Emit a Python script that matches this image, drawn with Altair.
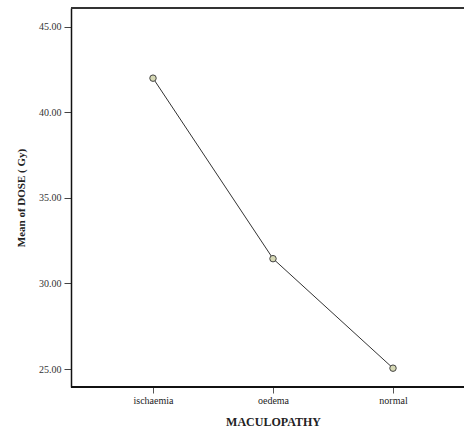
import altair as alt
import pandas as pd

categories = ["ischaemia", "oedema", "normal"]
mean_dose = [42.0, 31.45, 25.05]
y_ticks = [25, 30, 35, 40, 45]

df = pd.DataFrame({"MACULOPATHY": categories, "dose": mean_dose})

W, H = 393, 379

x_enc = alt.X(
    "MACULOPATHY:N",
    sort=categories,
    scale=alt.Scale(type="point", padding=0, range=[82, 322]),
    axis=alt.Axis(
        title="MACULOPATHY",
        titleFont="Liberation Serif",
        titleFontSize=12,
        titleFontWeight="bold",
        titleColor="#222222",
        titlePadding=11,
        labelFont="Liberation Serif",
        labelFontSize=10,
        labelColor="#222222",
        labelAngle=0,
        labelPadding=2,
        tickSize=6,
        tickColor="#555555",
        domain=False,
        grid=False,
    ),
)

y_enc = alt.Y(
    "dose:Q",
    scale=alt.Scale(domain=[23.95, 46.1], nice=False, zero=False),
    axis=alt.Axis(
        title="Mean of DOSE ( Gy)",
        titleFont="Liberation Serif",
        titleFontSize=11,
        titleFontWeight="bold",
        titleColor="#222222",
        titlePadding=12,
        values=y_ticks,
        format=".2f",
        labelFont="Liberation Sans Narrow",
        labelFontSize=10,
        labelColor="#333333",
        labelPadding=3,
        tickSize=7,
        tickColor="#444444",
        domainColor="#111111",
        domainWidth=1.5,
        grid=False,
    ),
)

base = alt.Chart(df).encode(x=x_enc, y=y_enc)

line = base.mark_line(color="#333333", strokeWidth=1)
points = base.mark_point(
    shape="circle", filled=True, size=42, fill="#d6d8b4", stroke="#444444", strokeWidth=1, opacity=1
)

top = alt.Chart(df).mark_rule(color="#333333", strokeWidth=2).encode(
    x=alt.value(0), x2=alt.value(W), y=alt.value(0)
)
bottom = alt.Chart(df).mark_rule(color="#111111", strokeWidth=2).encode(
    x=alt.value(0), x2=alt.value(W), y=alt.value(H)
)

chart = (
    alt.layer(line, points, top, bottom)
    .properties(
        width=W,
        height=H,
        autosize=alt.AutoSizeParams(type="none"),
        padding={"left": 71, "top": 8, "right": 0, "bottom": 45},
        background="white",
    )
    .configure_view(strokeWidth=0)
)

chart.save("out.html", embed_options={"renderer": "svg", "actions": False})
